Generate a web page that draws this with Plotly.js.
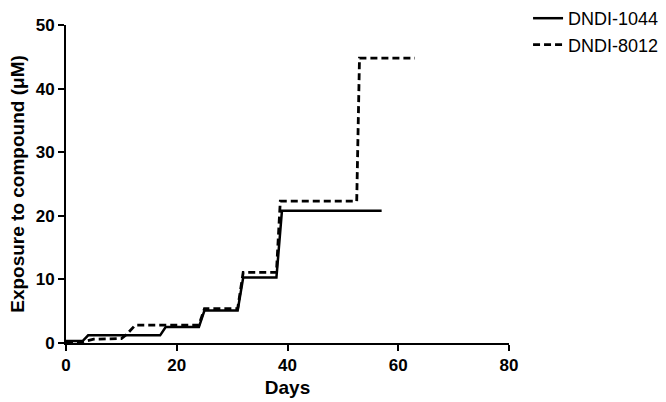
<!DOCTYPE html>
<html>
<head>
<meta charset="utf-8">
<script src="https://cdn.plot.ly/plotly-3.0.1.min.js"></script>
<style>
  body { margin: 0; background: #fff; }
  #plotField { width: 666px; height: 402px; }
</style>
</head>
<body>
<div id="plotField"></div>
<script>
// DNDI-1044 (solid) - stepped exposure
var days1044 = [0, 3, 4, 17, 18, 24, 25, 31, 32, 38, 39, 57];
var exp1044 = [0.3, 0.3, 1.2, 1.2, 2.5, 2.5, 5.1, 5.1, 10.3, 10.3, 20.8, 20.8];

// DNDI-8012 (dashed)
var days8012 = [0, 3, 5, 10, 11, 12.5, 24, 25, 31, 32, 38, 38.7, 52.5, 53, 63];
var exp8012 = [0.2, 0.2, 0.6, 0.7, 1.4, 2.8, 2.8, 5.4, 5.4, 11.1, 11.1, 22.3, 22.3, 44.8, 44.8];

var xTicks = [0, 20, 40, 60, 80];
var yTicks = [0, 10, 20, 30, 40, 50];

var fontFam = 'Liberation Sans, Arial, sans-serif';

var data = [
    {
        x: days1044,
        y: exp1044,
        name: 'DNDI-1044',
        mode: 'lines',
        type: 'scatter',
        line: {color: '#000', width: 2.5}
    },
    {
        x: days8012,
        y: exp8012,
        name: 'DNDI-8012',
        mode: 'lines',
        type: 'scatter',
        line: {color: '#000', width: 2.8, dash: '7px,4px'}
    }
];

var layout = {
    width: 666,
    height: 402,
    margin: {l: 66, r: 157, t: 25, b: 59, autoexpand: false},
    paper_bgcolor: '#fff',
    plot_bgcolor: '#fff',
    showlegend: true,
    legend: {
        xref: 'paper', yref: 'container',
        x: 1.043, xanchor: 'left',
        y: 1.0, yanchor: 'top',
        font: {family: fontFam, size: 18, color: '#000'},
        tracegroupgap: 0
    },
    xaxis: {
        range: [0, 80],
        tickvals: xTicks,
        showgrid: false,
        zeroline: false,
        showline: true,
        linecolor: '#000',
        linewidth: 2,
        ticks: 'outside',
        ticklen: 6,
        tickwidth: 2,
        tickcolor: '#000',
        tickfont: {family: fontFam, size: 17, color: '#000', weight: 'bold'},
        title: {text: 'Days', font: {family: fontFam, size: 19, color: '#000', weight: 'bold'}, standoff: 6}
    },
    yaxis: {
        range: [0, 50],
        tickvals: yTicks,
        showgrid: false,
        zeroline: false,
        showline: true,
        linecolor: '#000',
        linewidth: 2,
        ticks: 'outside',
        ticklen: 6,
        tickwidth: 2,
        tickcolor: '#000',
        tickfont: {family: fontFam, size: 17, color: '#000', weight: 'bold'},
        title: {text: 'Exposure to compound (\u03bcM)', font: {family: fontFam, size: 19, color: '#000', weight: 'bold'}, standoff: 6}
    }
};

var config = {staticPlot: true};
Plotly.newPlot('plotField', data, layout, config);
</script>
</body>
</html>
